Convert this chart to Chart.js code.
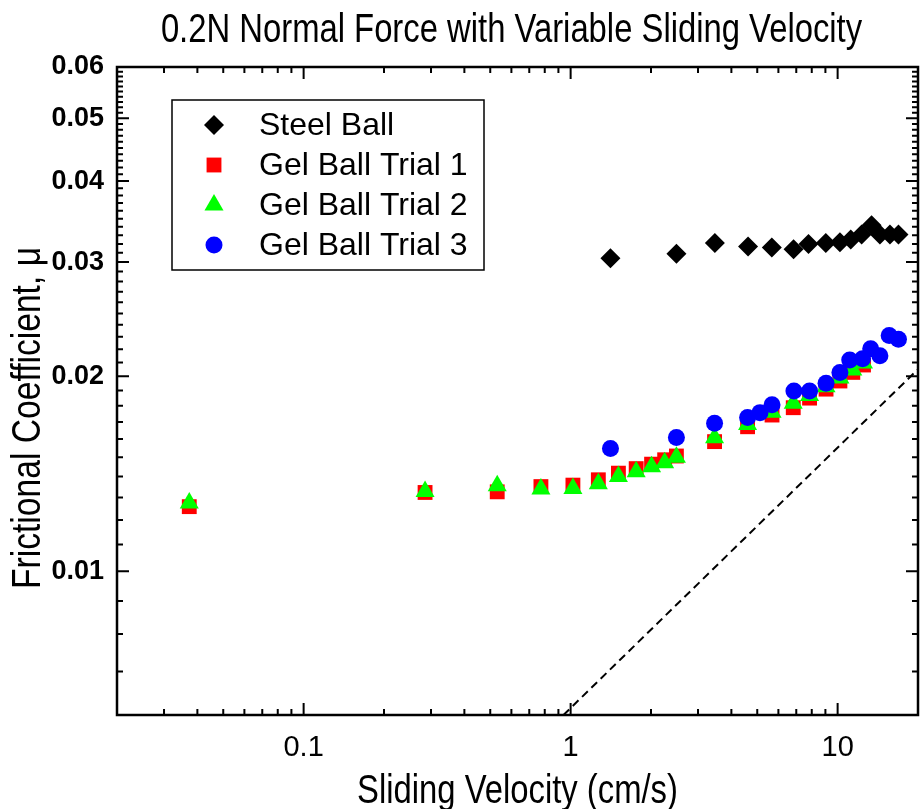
<!DOCTYPE html>
<html>
<head>
<meta charset="utf-8">
<script src="https://cdn.jsdelivr.net/npm/chart.js@4/dist/chart.umd.min.js"></script>
<style>
  html, body { margin: 0; padding: 0; background: #fff; }
</style>
</head>
<body>
<canvas id="chartFriction" width="920" height="809"></canvas>
<script>
// values: sliding velocity (cm/s) vs frictional coefficient

const steelVelocity = [1.41, 2.49, 3.47, 4.62, 5.67, 6.84, 7.78, 9.03, 10.2, 11.2, 12.3, 13.4, 14.4, 15.7, 16.9];
const steelMu = [0.0304, 0.0309, 0.0321, 0.0317, 0.0316, 0.0314, 0.0320, 0.0321, 0.0322, 0.0325, 0.0331, 0.0342, 0.0331, 0.0331, 0.0331];

const gelVelocity = [0.0373, 0.285, 0.531, 0.774, 1.02, 1.27, 1.51, 1.76, 2.01, 2.25, 2.49, 3.46, 4.60, 5.68, 6.82, 7.85, 9.05, 10.2, 11.4, 12.5];
const gel1Mu = [0.01258, 0.01323, 0.01326, 0.01351, 0.01358, 0.01384, 0.01417, 0.0144, 0.01463, 0.01486, 0.01506, 0.01585, 0.01671, 0.01742, 0.01788, 0.0185, 0.0191, 0.01966, 0.02027, 0.02081];
const gel2Mu = [0.01274, 0.01327, 0.01355, 0.01339, 0.01342, 0.01365, 0.014, 0.01424, 0.0145, 0.0147, 0.015, 0.01607, 0.01684, 0.01759, 0.01817, 0.01868, 0.01926, 0.01987, 0.02044, 0.02095];

const gel3Velocity = [1.41, 2.49, 3.46, 4.60, 5.12, 5.68, 6.86, 7.85, 9.05, 10.2, 11.1, 12.4, 13.3, 14.4, 15.6, 16.9];
const gel3Mu = [0.01547, 0.01609, 0.01692, 0.01727, 0.01757, 0.01807, 0.01898, 0.01898, 0.0195, 0.02026, 0.02119, 0.02127, 0.02205, 0.0215, 0.02311, 0.02281];

// dashed reference line
const dashVelocity = [0.94, 20];
const dashMu = [0.006, 0.0205];

const xMajorTicks = [0.1, 1, 10];
const yMajorTicks = [0.01, 0.02, 0.03, 0.04, 0.05, 0.06];

const chartTitle = "0.2N Normal Force with Variable Sliding Velocity";
const xTitle = "Sliding Velocity (cm/s)";
const yTitle = "Frictional Coefficient, μ";

const plainFont = "'Liberation Sans', Arial, sans-serif";

function points(xs, ys) {
    return xs.map((x, i) => ({ x: x, y: ys[i] }));
}

// minor tick values, one decade at a time
const xMinorTicks = [];
[0.01, 0.1, 1, 10].forEach(d => {
    for (let k = 2; k <= 9; k++) xMinorTicks.push(k * d);
});
const yMinorTicks = [];
for (let k = 7; k < 60; k++) {
    if (k % 10) yMinorTicks.push(k / 1000);
}

// squeezed text, the original uses a narrow face
function narrowText(ctx, text, x, y, size, angle) {
    ctx.save();
    ctx.translate(x, y);
    if (angle) ctx.rotate(angle);
    ctx.scale(0.82, 1);
    ctx.font = size + "px " + plainFont;
    ctx.fillStyle = "#000";
    ctx.textAlign = "center";
    ctx.textBaseline = "middle";
    ctx.fillText(text, 0, 0);
    ctx.restore();
}

// frame round the plot with inward ticks on all four sides, plus titles
const frameTicks = {
    id: "frameTicks",
    afterDraw(chart) {
        const ctx = chart.ctx;
        const a = chart.chartArea;
        const xs = chart.scales.x;
        const ys = chart.scales.y;
        ctx.save();
        ctx.strokeStyle = "#000";
        ctx.lineWidth = 2;
        ctx.beginPath();
        const tick = (vals, len) => {
            vals.forEach(v => {
                if (v > xs.min && v < xs.max) {
                    const px = xs.getPixelForValue(v);
                    ctx.moveTo(px, a.bottom); ctx.lineTo(px, a.bottom - len);
                    ctx.moveTo(px, a.top); ctx.lineTo(px, a.top + len);
                }
            });
        };
        const tickY = (vals, len) => {
            vals.forEach(v => {
                if (v > ys.min && v < ys.max) {
                    const py = ys.getPixelForValue(v);
                    ctx.moveTo(a.left, py); ctx.lineTo(a.left + len, py);
                    ctx.moveTo(a.right, py); ctx.lineTo(a.right - len, py);
                }
            });
        };
        tick(xMajorTicks, 12);
        tick(xMinorTicks, 6);
        tickY(yMajorTicks, 12);
        tickY(yMinorTicks, 6);
        ctx.stroke();
        ctx.lineWidth = 2.5;
        ctx.strokeRect(a.left, a.top, a.right - a.left, a.bottom - a.top);
        ctx.restore();

        const cx = (a.left + a.right) / 2;
        narrowText(ctx, chartTitle, cx - 6, 31, 40, 0);
        narrowText(ctx, xTitle, cx, 792, 40, 0);
        narrowText(ctx, yTitle, 29, 418, 41, -Math.PI / 2);
    }
};

// boxed legend inside the plot, top left
const boxLegend = {
    id: "boxLegend",
    afterDraw(chart) {
        const ctx = chart.ctx;
        const a = chart.chartArea;
        const x0 = a.left + 55;
        const y0 = a.top + 33;
        ctx.save();
        ctx.fillStyle = "#fff";
        ctx.fillRect(x0, y0, 312, 170);
        ctx.strokeStyle = "#000";
        ctx.lineWidth = 1.5;
        ctx.strokeRect(x0, y0, 312, 170);
        ctx.font = "32px " + plainFont;
        ctx.textBaseline = "middle";
        chart.data.datasets.forEach((ds, i) => {
            if (!ds.label) return;
            const cy = y0 + 25 + i * 40;
            ctx.fillStyle = ds.pointBackgroundColor;
            Chart.helpers.drawPoint(ctx, {
                pointStyle: ds.pointStyle,
                radius: ds.pointRadius,
                rotation: 0,
                borderWidth: 0
            }, x0 + 42, cy);
            ctx.fillStyle = "#000";
            ctx.fillText(ds.label, x0 + 87, cy + 1);
        });
        ctx.restore();
    }
};

const dataFriction = {
    datasets: [{
        label: "Steel Ball",
        data: points(steelVelocity, steelMu),
        pointStyle: "rectRot",
        pointRadius: 10,
        pointBackgroundColor: "#000000",
        pointBorderWidth: 0,
        showLine: false,
        order: 4
    }, {
        label: "Gel Ball Trial 1",
        data: points(gelVelocity, gel1Mu),
        pointStyle: "rect",
        pointRadius: 10.5,
        pointBackgroundColor: "#ff0000",
        pointBorderWidth: 0,
        showLine: false,
        order: 3
    }, {
        label: "Gel Ball Trial 2",
        data: points(gelVelocity, gel2Mu),
        pointStyle: "triangle",
        pointRadius: 11,
        pointBackgroundColor: "#00ff00",
        pointBorderWidth: 0,
        showLine: false,
        order: 2
    }, {
        label: "Gel Ball Trial 3",
        data: points(gel3Velocity, gel3Mu),
        pointStyle: "circle",
        pointRadius: 8.5,
        pointBackgroundColor: "#0000ff",
        pointBorderWidth: 0,
        showLine: false,
        order: 1
    }, {
        label: "",
        data: points(dashVelocity, dashMu),
        showLine: true,
        borderColor: "#000000",
        borderWidth: 2,
        borderDash: [8, 5],
        pointRadius: 0,
        order: 5
    }]
};

const configFriction = {
    type: "scatter",
    data: dataFriction,
    options: {
        responsive: false,
        animation: false,
        events: [],
        layout: { autoPadding: false, padding: { top: 67, right: 2 } },
        plugins: {
            legend: { display: false },
            tooltip: { enabled: false },
            title: { display: false }
        },
        scales: {
            x: {
                type: "logarithmic",
                min: 0.02,
                max: 20,
                afterBuildTicks: s => { s.ticks = xMajorTicks.map(v => ({ value: v })); },
                afterFit: s => { s.height = 94; s.paddingLeft = 0; s.paddingRight = 0; },
                grid: { display: false, drawTicks: false },
                border: { display: false },
                ticks: {
                    color: "#000",
                    padding: 16,
                    maxRotation: 0,
                    autoSkip: false,
                    font: { family: plainFont, size: 29 },
                    callback: v => String(v)
                }
            },
            y: {
                type: "logarithmic",
                min: 0.006,
                max: 0.06,
                afterBuildTicks: s => { s.ticks = yMajorTicks.map(v => ({ value: v })); },
                afterFit: s => { s.width = 117; s.paddingTop = 0; s.paddingBottom = 0; },
                grid: { display: false, drawTicks: false },
                border: { display: false },
                ticks: {
                    color: "#000",
                    padding: 13,
                    autoSkip: false,
                    font: { family: plainFont, size: 27, weight: "bold" },
                    callback: v => String(v)
                }
            }
        }
    },
    plugins: [frameTicks, boxLegend]
};

var chartFriction = new Chart(
    document.getElementById("chartFriction"),
    configFriction
);
</script>
</body>
</html>
